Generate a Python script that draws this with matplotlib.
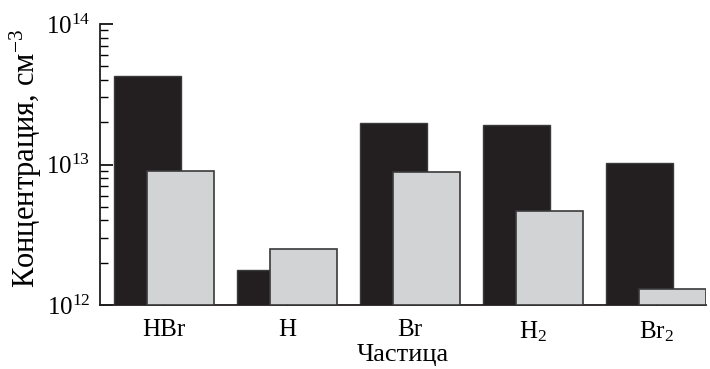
import matplotlib
matplotlib.use("Agg")
import matplotlib.pyplot as plt
import numpy as np

species = ["HBr", "H", "Br", "H$_2$", "Br$_2$"]
dark_vals = [4.27e13, 1.78e12, 1.97e13, 1.92e13, 1.03e13]
light_vals = [9.0e12, 2.5e12, 8.9e12, 4.67e12, 1.31e12]

plt.rcParams["font.family"] = "Liberation Serif"
plt.rcParams["mathtext.fontset"] = "custom"
plt.rcParams["mathtext.rm"] = "Liberation Serif"
plt.rcParams["mathtext.it"] = "Liberation Serif:italic"
plt.rcParams["mathtext.default"] = "regular"


def main() -> None:
    x = np.arange(len(species))
    width = 0.545
    shift = 0.134
    base = 1e12

    fig = plt.figure(figsize=(7.1, 3.69), dpi=100)
    ax = fig.add_axes([0.1408, 0.1734, 0.8536, 0.7616])
    ax.set_yscale("log")

    ax.bar(x - shift, np.array(dark_vals) - base, width, bottom=base,
           color="#231f20", edgecolor="#3a3a3a", linewidth=1.0, zorder=2)
    ax.bar(x + shift, np.array(light_vals) - base, width, bottom=base,
           color="#d2d3d5", edgecolor="#3a3a3a", linewidth=1.2, zorder=3)

    ax.set_ylim(1e12, 1e14)
    ax.set_xlim(-0.52, x[-1] + shift + width / 2)

    ax.set_xticks(x)
    ax.set_xticklabels(species, fontsize=18)
    ax.tick_params(axis="x", direction="in", length=6, width=1, pad=10)
    ax.tick_params(axis="y", which="major", direction="in", length=9,
                   width=1.2, labelsize=18, pad=7)
    ax.tick_params(axis="y", which="minor", direction="in", length=6,
                   width=1)
    for side in ("top", "right"):
        ax.spines[side].set_visible(False)
    for side in ("left", "bottom"):
        ax.spines[side].set_linewidth(1.3)
        ax.spines[side].set_color("#231f20")

    ax.set_xlabel("Частица", fontsize=19, labelpad=0)
    ax.set_ylabel("Концентрация, см$^{-3}$", fontsize=22)
    ax.yaxis.set_label_coords(-0.092, 0.52)

    fig.savefig("out.png", dpi=100)
    plt.close(fig)


if __name__ == "__main__":
    main()
